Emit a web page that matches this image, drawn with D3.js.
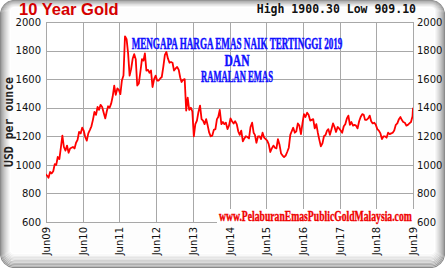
<!DOCTYPE html>
<html>
<head>
<meta charset="utf-8">
<script src="https://cdn.jsdelivr.net/npm/d3@7"></script>
<style>
  html, body { margin: 0; padding: 0; background: #fff; }
  svg { display: block; }
</style>
</head>
<body>
<svg id="chart"></svg>
<script>
const gold2009 = [935, 925, 910, 950, 940, 955, 1005, 1000, 1055, 1040, 1120, 1205, 1125] // from Jun 16
const gold2010 = [1100, 1135, 1085, 1115, 1120, 1125, 1115, 1155, 1175, 1230, 1220, 1260,
  1240, 1195, 1170, 1220, 1245, 1270, 1315, 1370, 1350, 1405, 1385, 1420]
const gold2011 = [1405, 1365, 1325, 1375, 1410, 1400, 1430, 1480, 1555, 1490, 1535, 1525,
  1495, 1590, 1625, 1900, 1880, 1780, 1625, 1670, 1745, 1775, 1740, 1555]
const gold2012 = [1570, 1650, 1740, 1730, 1780, 1660, 1665, 1645, 1660, 1545, 1600, 1625,
  1590, 1590, 1605, 1615, 1690, 1770, 1790, 1745, 1715, 1720, 1715, 1660]
const gold2013 = [1675, 1685, 1665, 1610, 1580, 1595, 1600, 1380, 1470, 1385, 1400, 1375,
  1200, 1285, 1310, 1370, 1415, 1320, 1310, 1285, 1320, 1275, 1225, 1200]
const gold2014 = [1205, 1245, 1250, 1320, 1335, 1385, 1285, 1300, 1285, 1295, 1250, 1275,
  1325, 1305, 1290, 1305, 1285, 1235, 1210, 1240, 1165, 1185, 1200, 1195]
const gold2015 = [1185, 1265, 1295, 1225, 1210, 1155, 1200, 1200, 1180, 1225, 1190, 1180,
  1170, 1145, 1090, 1115, 1135, 1120, 1115, 1180, 1140, 1080, 1065, 1055]
const gold2016 = [1065, 1090, 1120, 1210, 1235, 1260, 1225, 1235, 1290, 1275, 1215, 1290,
  1355, 1335, 1365, 1350, 1310, 1315, 1320, 1255, 1285, 1225, 1175, 1130]
const gold2017 = [1150, 1200, 1210, 1240, 1250, 1210, 1250, 1290, 1265, 1230, 1265, 1255,
  1240, 1225, 1270, 1285, 1325, 1345, 1280, 1300, 1275, 1280, 1275, 1255]
const gold2018 = [1305, 1335, 1355, 1350, 1315, 1315, 1325, 1345, 1305, 1290, 1295, 1280,
  1250, 1240, 1220, 1180, 1200, 1200, 1190, 1225, 1215, 1220, 1225, 1240]
const gold2019 = [1280, 1290, 1320, 1335, 1315, 1300, 1295, 1275, 1280, 1290, 1300, 1340] // to Jun 16
const lastClose = ['2019-06-21', 1400]

const yTicks = [600, 800, 1000, 1200, 1400, 1600, 1800, 2000]
const xTickLabels = ['Jun09', 'Jun10', 'Jun11', 'Jun12', 'Jun13', 'Jun14',
  'Jun15', 'Jun16', 'Jun17', 'Jun18', 'Jun19']

const title = '10 Year Gold'
const highLow = 'High 1900.30 Low 909.10'
const yTitle = 'USD per ounce'
const headline = ['MENGAPA HARGA EMAS NAIK TERTINGGI 2019', 'DAN', 'RAMALAN EMAS']
const siteUrl = 'www.PelaburanEmasPublicGoldMalaysia.com'

// layout
let width = 445
let height = 268
let margin = { top: 22, right: 32, bottom: 46, left: 46 }
let plotW = width - margin.left - margin.right
let plotH = height - margin.top - margin.bottom

// build dated series (1st and 16th of each month)
let series = []
function addYear(year, startMonth, startHalf, values) {
  values.forEach((v, i) => {
    let k = startHalf + i
    let month = startMonth + Math.floor(k / 2)
    let day = k % 2 ? 16 : 1
    series.push({ date: new Date(year, month, day), value: v })
  })
}
addYear(2009, 5, 1, gold2009)
addYear(2010, 0, 0, gold2010)
addYear(2011, 0, 0, gold2011)
addYear(2012, 0, 0, gold2012)
addYear(2013, 0, 0, gold2013)
addYear(2014, 0, 0, gold2014)
addYear(2015, 0, 0, gold2015)
addYear(2016, 0, 0, gold2016)
addYear(2017, 0, 0, gold2017)
addYear(2018, 0, 0, gold2018)
addYear(2019, 0, 0, gold2019)
series.push({ date: new Date(lastClose[0] + 'T00:00'), value: lastClose[1] })

let xTickDates = xTickLabels.map(s => new Date(2000 + +s.slice(3), 5, 21))

let x = d3.scaleTime()
  .domain([xTickDates[0], xTickDates[xTickDates.length - 1]])
  .range([0, plotW])

let y = d3.scaleLinear()
  .domain([600, 2000])
  .range([plotH, 0])

let svg = d3.select('#chart').attr('width', width).attr('height', height)

// bevelled rounded frame
let shades = d3.interpolateRgb('#8a8a8a', '#ffffff')
svg.append('rect').attr('width', width).attr('height', height).attr('fill', '#fff')
for (let i = 0; i < 11; i++) {
  svg.append('rect')
    .attr('x', i + 0.5)
    .attr('y', i * 0.7 + 0.5)
    .attr('width', width - 2 * i - 1)
    .attr('height', height - i * 0.7 - i * 1.4 - 1)
    .attr('rx', Math.max(14 - i, 3))
    .attr('fill', i === 10 ? '#fdfdfd' : 'none')
    .attr('stroke', shades(Math.pow(i / 10, 0.7)))
    .attr('stroke-width', 1.2)
}

let g = svg.append('g').attr('transform', `translate(${margin.left},${margin.top})`)

g.append('rect')
  .attr('width', plotW)
  .attr('height', plotH)
  .attr('fill', '#fff')

// grid
g.append('g')
  .selectAll('line')
  .data(yTicks)
  .join('line')
  .attr('x1', 0)
  .attr('x2', plotW)
  .attr('y1', d => Math.round(y(d)) + 0.5)
  .attr('y2', d => Math.round(y(d)) + 0.5)
  .attr('stroke', '#a8a8a8')
  .attr('stroke-width', 1)

g.append('g')
  .selectAll('line')
  .data(xTickDates)
  .join('line')
  .attr('x1', d => Math.round(x(d)) + 0.5)
  .attr('x2', d => Math.round(x(d)) + 0.5)
  .attr('y1', 0)
  .attr('y2', plotH)
  .attr('stroke', '#a8a8a8')
  .attr('stroke-width', 1)

// axes text
let leftAxis = d3.axisLeft(y).tickValues(yTicks).tickFormat(d3.format('d')).tickSize(0).tickPadding(5)
let rightAxis = d3.axisRight(y).tickValues(yTicks).tickFormat(d3.format('d')).tickSize(0).tickPadding(4)
g.append('g').call(leftAxis).call(a => a.select('.domain').remove())
g.append('g').attr('transform', `translate(${plotW},0)`).call(rightAxis)
  .call(a => a.select('.domain').remove())
g.selectAll('.tick text')
  .attr('font-family', 'DejaVu Sans, Verdana, sans-serif')
  .attr('font-size', 10)
  .attr('fill', '#111')

let bottomAxis = d3.axisBottom(x)
  .tickValues(xTickDates)
  .tickFormat((d, i) => xTickLabels[i])
  .tickSize(0)
g.append('g')
  .attr('transform', `translate(0,${plotH})`)
  .call(bottomAxis)
  .call(a => a.select('.domain').remove())
  .selectAll('text')
  .attr('font-family', 'DejaVu Sans, Verdana, sans-serif')
  .attr('font-size', 10)
  .attr('fill', '#111')
  .attr('text-anchor', 'end')
  .attr('transform', 'rotate(-90)')
  .attr('x', -5)
  .attr('y', 0)
  .attr('dy', '0.35em')

// price line
g.append('clipPath').attr('id', 'plot-clip')
  .append('rect').attr('width', plotW).attr('height', plotH)

g.append('path')
  .datum(series)
  .attr('clip-path', 'url(#plot-clip)')
  .attr('fill', 'none')
  .attr('stroke', '#ff0000')
  .attr('stroke-width', 1.8)
  .attr('stroke-linejoin', 'round')
  .attr('d', d3.line().x(d => x(d.date)).y(d => y(d.value)))

// squeeze a bold serif text horizontally to a given width (condensed look)
function condensed(sel, cx, baseline, targetW, size, color, anchor) {
  let t = sel.append('text')
    .attr('font-family', 'Liberation Serif, Times New Roman, serif')
    .attr('font-weight', 'bold')
    .attr('font-size', size)
    .attr('text-anchor', anchor)
    .attr('fill', color)
    .attr('stroke', color)
    .attr('stroke-width', 0.5)
  return t
}
function squeeze(t, px, py, targetW) {
  let natural = t.node().getComputedTextLength()
  t.attr('transform', `translate(${px},${py}) scale(${targetW / natural},1)`)
}

// headline in blue
let headY = [49, 66, 82]
let headW = [211, 25, 72]
headline.forEach((line, i) => {
  let t = condensed(g, 0, 0, headW[i], 16, '#1010ff', 'middle').text(line)
  squeeze(t, 237 - margin.left, headY[i] - margin.top, headW[i])
})

// website, on a white strip
g.append('rect')
  .attr('x', 217 - margin.left)
  .attr('y', 209 - margin.top)
  .attr('width', 197)
  .attr('height', 15)
  .attr('fill', '#fff')
let url = condensed(g, 0, 0, 193, 14.5, '#f00000', 'start').attr('stroke-width', 0.4).text(siteUrl)
squeeze(url, 219 - margin.left, 221 - margin.top, 193)

// titles
svg.append('text')
  .attr('x', 19)
  .attr('y', 15)
  .attr('font-family', 'Liberation Sans, Arial, sans-serif')
  .attr('font-weight', 'bold')
  .attr('font-size', 16.5)
  .attr('fill', '#d40000')
  .text(title)

svg.append('text')
  .attr('x', 416)
  .attr('y', 13)
  .attr('text-anchor', 'end')
  .attr('font-family', 'DejaVu Sans Mono, monospace')
  .attr('font-weight', 'bold')
  .attr('font-size', 11.5)
  .attr('fill', '#111')
  .text(highLow)

svg.append('text')
  .attr('transform', `translate(13,${margin.top + plotH / 2}) rotate(-90)`)
  .attr('text-anchor', 'middle')
  .attr('font-family', 'DejaVu Sans Mono, monospace')
  .attr('font-weight', 'bold')
  .attr('font-size', 11.5)
  .attr('fill', '#222')
  .text(yTitle)
</script>
</body>
</html>
